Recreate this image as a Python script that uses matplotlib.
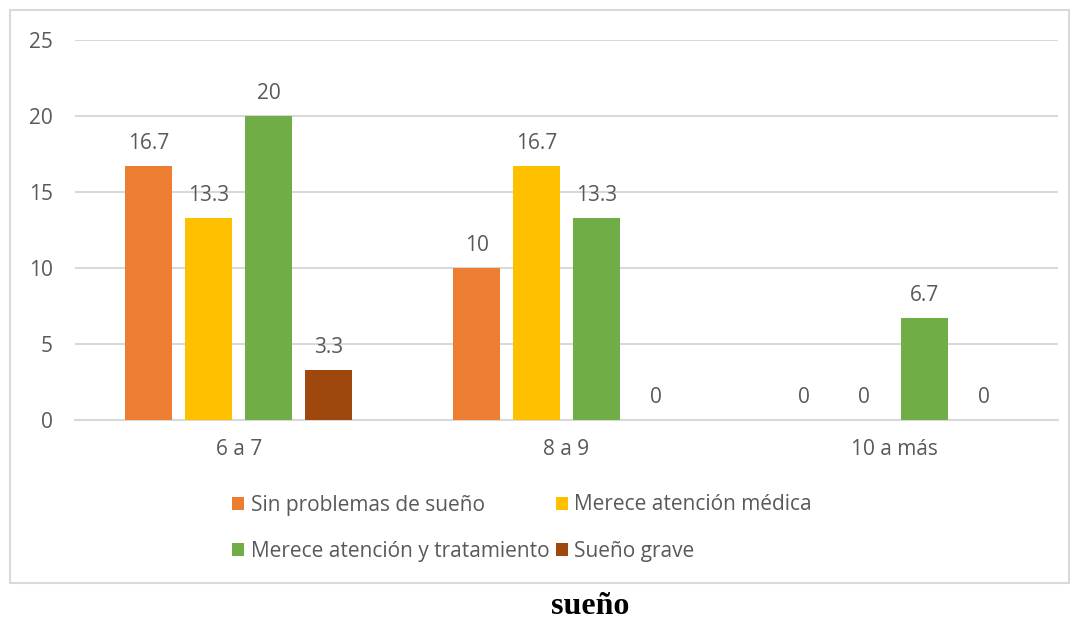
import matplotlib.pyplot as plt
import numpy as np
from matplotlib.patches import Rectangle

categorias = ['6 a 7', '8 a 9', '10 a más']
series = ['Sin problemas de sueño', 'Merece atención médica',
          'Merece atención y tratamiento', 'Sueño grave']
sin_problemas = [16.7, 10, 0]
atencion_medica = [13.3, 16.7, 0]
atencion_tratamiento = [20, 13.3, 6.7]
sueno_grave = [3.3, 0, 0]
colores = ['#ED7D31', '#FFC000', '#70AD47', '#9E480E']

plt.rcParams['font.family'] = ['Open Sans', 'DejaVu Sans']
gris = '#595959'
fs = 15

fig = plt.figure(figsize=(10.74, 6.18), dpi=100)
ax = fig.add_axes([75/1074, 1-420/618, 983/1074, 380/618])

x = np.arange(len(categorias))
paso = 60/328
ancho = 47/328
valores = [sin_problemas, atencion_medica, atencion_tratamiento, sueno_grave]
barras = []
for i, (nombre, vals) in enumerate(zip(series, valores)):
    pos = x + (i - 1.5) * paso
    b = ax.bar(pos, vals, ancho, color=colores[i], label=nombre, zorder=3)
    barras.append(b)
    for p, v in zip(pos, vals):
        ax.annotate(f'{v:g}', (p, v), xytext=(0, 16), textcoords='offset points',
                    ha='center', va='center', fontsize=fs, color=gris)

ax.set_xlim(-0.5, 2.5)
ax.set_ylim(0, 25)
ax.set_yticks([0, 5, 10, 15, 20, 25])
ax.set_xticks(x)
ax.set_xticklabels(categorias)
ax.yaxis.grid(True, color='#d9d9d9', linewidth=1.5, zorder=0)
ax.tick_params(length=0, labelsize=fs, labelcolor=gris)
ax.tick_params(axis='y', pad=16)
ax.tick_params(axis='x', pad=14)
for s in ['top', 'right', 'left']:
    ax.spines[s].set_visible(False)
ax.spines['bottom'].set_color('#d9d9d9')
ax.spines['bottom'].set_linewidth(1.5)

# orden por filas como en el original
orden = [0, 2, 1, 3]
fig.legend([barras[k] for k in orden], [series[k] for k in orden],
           loc='center', bbox_to_anchor=(522/1074, 1-528/618), ncol=2,
           frameon=False, fontsize=fs, labelcolor=gris, handlelength=0.6,
           handleheight=0.6, handletextpad=0.3, columnspacing=0.3,
           labelspacing=1.2)

# marco del gráfico
fig.patches.append(Rectangle((10/1074, 1-583/618), 1059/1074, 573/618,
                             transform=fig.transFigure, fill=False,
                             edgecolor='#d9d9d9', linewidth=1.5))

fig.text(590/1074, 1-606/618, 'sueño', ha='center', va='center',
         fontsize=23, fontweight='bold', family='Liberation Serif')

fig.savefig('out.png', dpi=100)
